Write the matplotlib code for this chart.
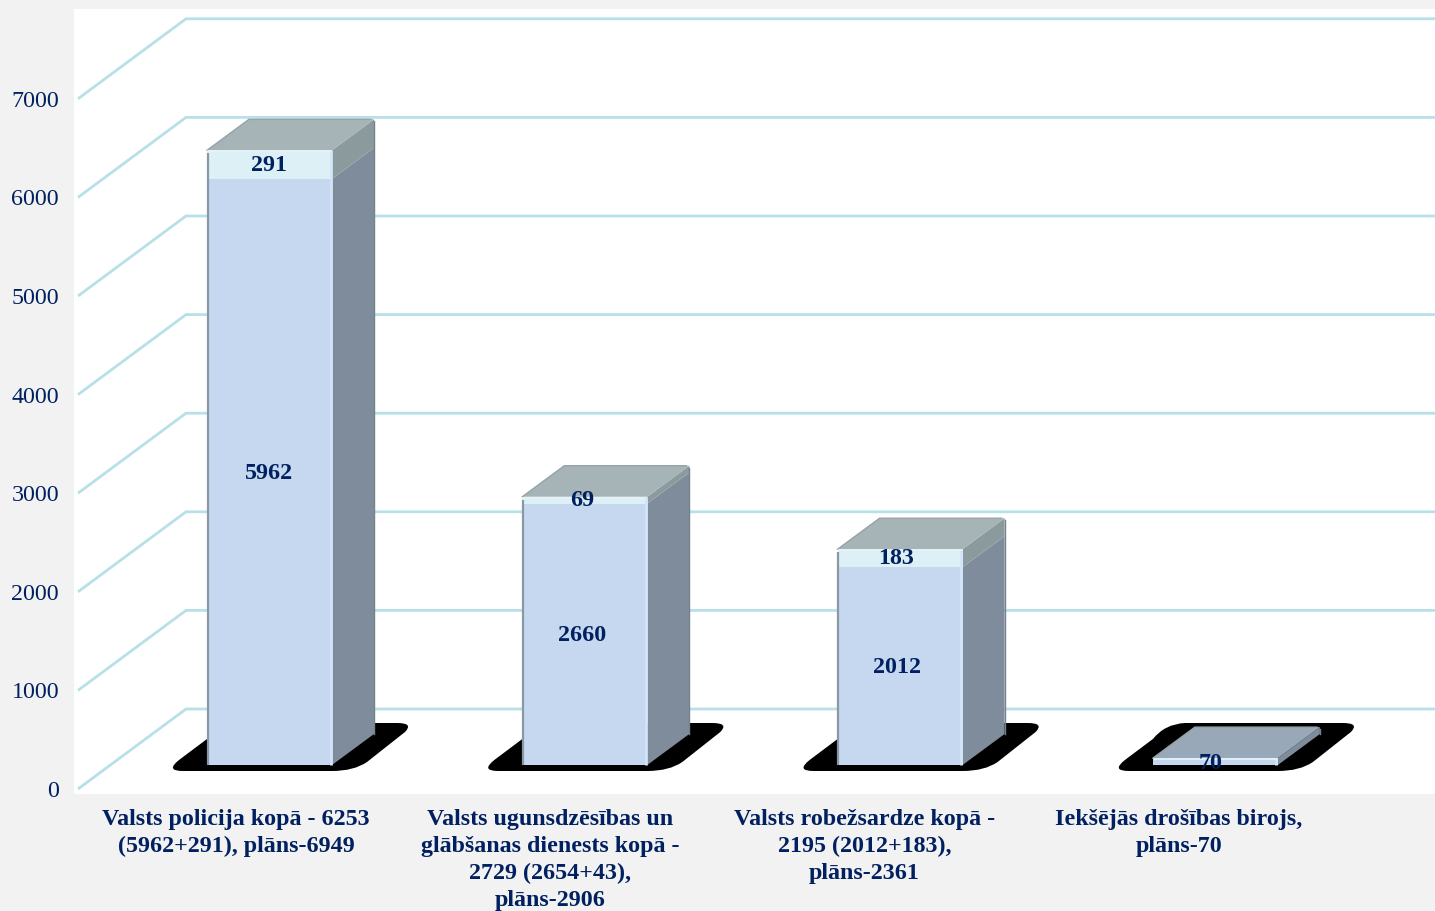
import matplotlib
matplotlib.use("Agg")
import matplotlib.pyplot as plt
import numpy as np
from matplotlib.patches import PathPatch, Polygon, Rectangle
from matplotlib.path import Path

plt.rcParams["font.family"] = ["Liberation Serif", "DejaVu Serif"]

categories = [
    "Valsts policija kopā - 6253\n(5962+291), plāns-6949",
    "Valsts ugunsdzēsības un\nglābšanas dienests kopā -\n2729 (2654+43),\nplāns-2906",
    "Valsts robežsardze kopā -\n2195 (2012+183),\nplāns-2361",
    "Iekšējās drošības birojs,\nplāns-70",
]
lower = [5962, 2660, 2012, 70]
upper = [291, 69, 183, 0]
y_ticks = [0, 1000, 2000, 3000, 4000, 5000, 6000, 7000]

NAVY = "#002060"
GRID = "#b7e0e8"
FRONT = "#c6d8f0"
FRONT_UP = "#dcf0f5"
SIDE = "#7f8c9b"
SIDE_UP = "#8b9a9c"
TOP = "#a6b4b8"
TOP_LOW = "#99a8b8"

W, H = 1435, 912
X_STEP = 315.3   # px per category
Y_SCALE = 0.0983  # px per unit
GRID_K = 0.0986 / Y_SCALE  # wall gridlines run a bit wider than the bars
X0, Y0 = 269.5, 766  # px of first bar centre / bar base

fig = plt.figure(figsize=(W / 100, H / 100), dpi=100, facecolor="#f2f2f2")
ax = fig.add_axes([0, 0, 1, 1])
ax.set_xlim(-X0 / X_STEP, (W - X0) / X_STEP)
ax.set_ylim((Y0 - H) / Y_SCALE, Y0 / Y_SCALE)
ax.axis("off")


def dx(px):
    return px / X_STEP


def dy(px):
    return px / Y_SCALE


x = np.arange(len(categories))
lower = np.array(lower)
upper = np.array(upper)
total = lower + upper
bar_w = dx(125)
depth_x, depth_y = dx(42), dy(31)

# white plot area
ax.add_patch(Rectangle((dx(74) - X0 / X_STEP, dy(Y0 - 795)), dx(W), dy(785),
                       fc="white", ec="none", zorder=0))

# floor/wall grid
x_front = dx(78) - X0 / X_STEP
x_back = dx(186) - X0 / X_STEP
x_end = (W - X0) / X_STEP
for v in y_ticks:
    y_f = v * GRID_K - dy(24)
    y_b = y_f + dy(80)
    ax.plot([x_front, x_back, x_end], [y_f, y_b, y_b], color=GRID, lw=2.0,
            zorder=1, solid_joinstyle="miter", solid_capstyle="butt")
    ax.text(dx(59) - X0 / X_STEP, v * GRID_K - dy(25.5), str(v), ha="right", va="center",
            fontsize=17.3, color=NAVY, zorder=6)

for i in x:
    left = i - bar_w / 2
    right = i + bar_w / 2

    # black shadow under the bar
    verts = [
        (left - dx(28), dy(5)),
        (left + dx(0), dy(26)),
        (left + dx(12), dy(41)),
        (left + dx(32), dy(42)),
        (right + dx(65), dy(42)),
        (right + dx(82), dy(42)),
        (right + dx(73), dy(33)),
        (right + dx(35), dy(3)),
        (right + dx(22), dy(-6)),
        (right + dx(0), dy(-6)),
        (left - dx(24), dy(-6)),
        (left - dx(42), dy(-6)),
        (left - dx(28), dy(5)),
    ]
    codes = [Path.MOVETO, Path.LINETO, Path.CURVE3, Path.CURVE3, Path.LINETO,
             Path.CURVE3, Path.CURVE3, Path.LINETO, Path.CURVE3, Path.CURVE3,
             Path.LINETO, Path.CURVE3, Path.CURVE3]
    ax.add_patch(PathPatch(Path(verts, codes), fc="black", ec="none", zorder=2))

    # right side faces
    ax.add_patch(Polygon([(right, 0), (right + depth_x, depth_y),
                          (right + depth_x, lower[i] + depth_y), (right, lower[i])],
                         fc=SIDE, ec="none", zorder=3))
    if upper[i] > 0:
        ax.add_patch(Polygon([(right, lower[i]), (right + depth_x, lower[i] + depth_y),
                              (right + depth_x, total[i] + depth_y), (right, total[i])],
                             fc=SIDE_UP, ec="none", zorder=3))
    # back vertical edge of the side
    ax.plot([right + depth_x] * 2, [depth_y, total[i] + depth_y - dy(2)],
            color="#75828e", lw=1.0, zorder=3)

    # top face
    ax.add_patch(Polygon([(left, total[i]), (left + depth_x, total[i] + depth_y),
                          (right + depth_x, total[i] + depth_y), (right, total[i])],
                         fc=TOP if upper[i] > 0 else TOP_LOW, ec="none", zorder=3))
    ax.plot([left, left + depth_x, right + depth_x - dx(3)],
            [total[i], total[i] + depth_y, total[i] + depth_y],
            color="#95a3a7", lw=1.0, zorder=3)

ax.bar(x, lower, width=bar_w, color=FRONT, zorder=4)
ax.bar(x, upper, bottom=lower, width=bar_w, color=FRONT_UP, zorder=4)

# bevel on the front faces
for i in x:
    left = i - bar_w / 2
    right = i + bar_w / 2
    if total[i] > 200:
        ax.plot([left + dx(0.5)] * 2, [0, total[i] - dy(3)], color="#8a98a6", lw=1.6,
                zorder=5, solid_capstyle="butt")
    ax.plot([right - dx(1.5)] * 2, [0, total[i]], color="#d3e5f8", lw=2, zorder=5,
            solid_capstyle="butt")
    ax.plot([left + dx(1), right - dx(1)], [total[i] - dy(1)] * 2, color="#e6f3f8", lw=1.2,
            zorder=5, solid_capstyle="butt")

    ax.text(i - dx(1 + 1.3 * i), lower[i] / 2 - dy(0.5), str(lower[i]),
            ha="center", va="center", fontsize=17.3, fontweight="bold", color=NAVY, zorder=6)
    if upper[i] > 0:
        ax.text(i - dx(1 + 1.3 * i), lower[i] + upper[i] / 2 + dy(0.5), str(upper[i]), ha="center", va="center",
                fontsize=17.3, fontweight="bold", color=NAVY, zorder=6)

# category labels
for i, label in enumerate(categories):
    ax.text(i - dx(33.5 + i), dy(Y0 - 809), label, ha="center", va="top", fontsize=17.3,
            fontweight="bold", color=NAVY, linespacing=1.365, zorder=6)

fig.savefig("out.png", dpi=100, facecolor=fig.get_facecolor())
